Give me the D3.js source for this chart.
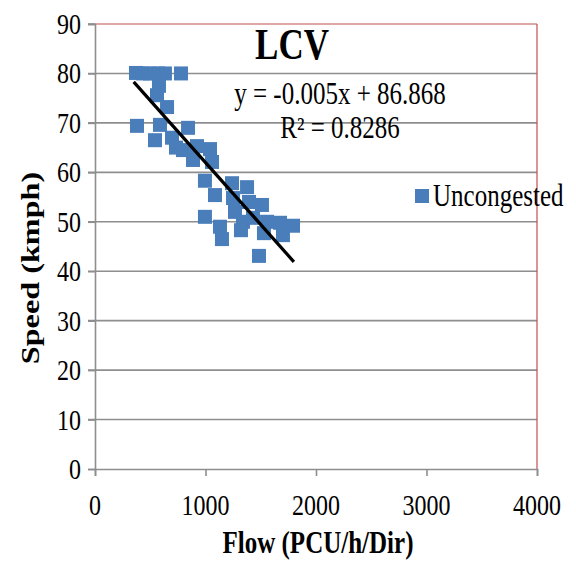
<!DOCTYPE html>
<html><head><meta charset="utf-8">
<script src="https://cdn.jsdelivr.net/npm/d3@7"></script>
<style>body{margin:0;background:#fff}svg{display:block}</style>
</head><body>
<script>
// ---- data ----
const flow  = [371,434,498,570,633,778,579,561,652,380,588,543,697,842,796,923,1041,887,1059,733,995,1086,1240,1376,1249,1394,1511,1267,1339,1430,1557,1674,1792,995,1131,1149,1321,1529,1701,1484];
const speed = [80.1,80,80,80,80,80,77.5,75.6,73.2,69.4,69.6,66.5,67,69,64.5,65.3,64.7,62.5,62.1,65,58.3,55.4,57.8,57,54.8,54,53.4,52,50,50.8,50,49.8,49.2,51,49,46.5,48.3,47.7,47.3,43.1];
const trendFlow  = [350, 1800];
const trendSpeed = [78.3, 41.9];
const xTicks = [0,1000,2000,3000,4000];
const yTicks = [0,10,20,30,40,50,60,70,80,90];
const seriesName = "Uncongested";
const chartTitle = "LCV";
const eqLine1 = "y = -0.005x + 86.868";
const eqLine2 = "R² = 0.8286";
const xTitle = "Flow (PCU/h/Dir)";
const yTitle = "Speed (kmph)";

// ---- layout ----
const W = 576, H = 561;
const L = 95, R = 537, T = 24, B = 469;
const SY = 1.24; // vertical stretch of text in the picture
const serif = "'Liberation Serif','Times New Roman',serif";
const blue = "#4a7ebb", grid = "#8e8e8e", red = "#c0504d";

const svg = d3.select("body").append("svg").attr("width", W).attr("height", H);
const x = d3.scaleLinear().domain([0, 4000]).range([L, R]);
const y = d3.scaleLinear().domain([0, 90]).range([B, T]);

// gridlines
svg.append("g").selectAll("line").data(yTicks.filter(d => d > 0 && d < 90)).join("line")
  .attr("x1", L - 7).attr("x2", R).attr("y1", d => y(d)).attr("y2", d => y(d))
  .attr("stroke", grid).attr("stroke-width", 1.6);

// plot border top/right in red
svg.append("line").attr("x1", L).attr("x2", R).attr("y1", T).attr("y2", T).attr("stroke", red).attr("stroke-width", 1.2);
svg.append("line").attr("x1", R).attr("x2", R).attr("y1", T).attr("y2", B).attr("stroke", red).attr("stroke-width", 1.2);

// axes
const yAxis = svg.append("g").attr("transform", `translate(${L},0)`)
  .call(d3.axisLeft(y).tickValues(yTicks).tickSize(7).tickFormat(""));
const xAxis = svg.append("g").attr("transform", `translate(0,${B})`)
  .call(d3.axisBottom(x).tickValues(xTicks).tickSize(7).tickFormat(""));
[yAxis, xAxis].forEach(a => {
  a.selectAll("path,line").attr("stroke", grid).attr("stroke-width", 1.6);
});
svg.append("line").attr("x1", L - 7).attr("x2", L).attr("y1", T).attr("y2", T).attr("stroke", grid).attr("stroke-width", 1.6);

function stext(g, tx, ty, str, size, weight, anchor, rot) {
  return g.append("text")
    .attr("transform", `translate(${tx},${ty}) scale(1,${SY})` + (rot ? ` rotate(${rot})` : ""))
    .attr("font-family", serif).attr("font-size", size).attr("font-weight", weight || "normal")
    .attr("text-anchor", anchor || "start").attr("fill", "#000").text(str);
}
yTicks.forEach(t => stext(svg, L - 14, y(t) + 10, String(t), 24, "normal", "end"));
xTicks.forEach(t => stext(svg, x(t), B + 46, String(t), 24, "normal", "middle"));

// points
svg.append("g").selectAll("rect").data(flow.map((f, i) => [f, speed[i]])).join("rect")
  .attr("x", d => x(d[0]) - 7).attr("y", d => y(d[1]) - 7)
  .attr("width", 14).attr("height", 14).attr("fill", blue);

// trendline
svg.append("line")
  .attr("x1", x(trendFlow[0])).attr("y1", y(trendSpeed[0]))
  .attr("x2", x(trendFlow[1])).attr("y2", y(trendSpeed[1]))
  .attr("stroke", "#000").attr("stroke-width", 3.2);

// title & equation
stext(svg, 292, 59, chartTitle, 35, "bold", "middle");
stext(svg, 340, 104, eqLine1, 25, "normal", "middle");
stext(svg, 340, 138, eqLine2, 25, "normal", "middle");

// legend
svg.append("rect").attr("x", 415).attr("y", 189).attr("width", 14).attr("height", 14).attr("fill", blue);
stext(svg, 433, 206, seriesName, 25, "normal", "start");

// axis titles
stext(svg, 318, 553, xTitle, 25, "bold", "middle");
stext(svg, 39, 268, yTitle, 26, "bold", "middle", -90);
</script>
</body></html>
